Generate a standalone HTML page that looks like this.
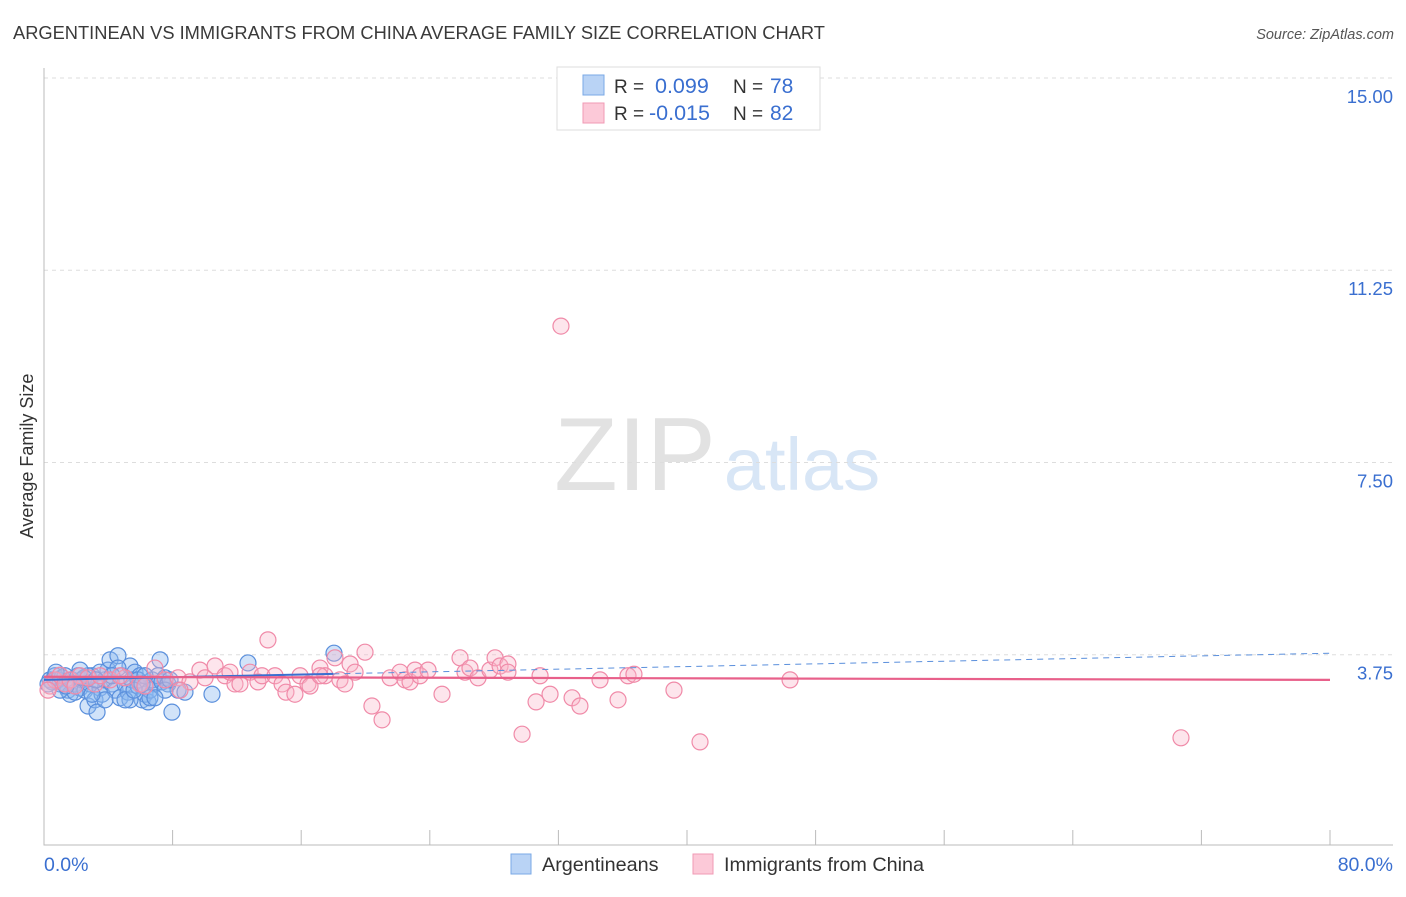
<!DOCTYPE html>
<html><head><meta charset="utf-8"><style>
body{margin:0;background:#fff;font-family:"Liberation Sans",sans-serif}
svg text{font-family:"Liberation Sans",sans-serif}
</style></head><body>
<svg id="chart" width="1406" height="892" xmlns="http://www.w3.org/2000/svg">
<text x="13" y="39" font-size="18.3" fill="#3a3a3a">ARGENTINEAN VS IMMIGRANTS FROM CHINA AVERAGE FAMILY SIZE CORRELATION CHART</text>
<text x="1394" y="39" font-size="14.5" fill="#555" text-anchor="end" font-style="italic">Source: ZipAtlas.com</text>
<text transform="translate(33,456) rotate(-90)" font-size="18" fill="#333" text-anchor="middle">Average Family Size</text>
<g>
<text x="635" y="490" font-size="104" fill="#e2e2e2" text-anchor="middle" font-family="Liberation Serif,serif">ZIP</text>
<text x="802" y="490" font-size="74" fill="#d8e6f6" text-anchor="middle">atlas</text>
</g>
<g id="grid"></g>
<g id="axes"></g>
<g id="pts"></g>
<g id="trends"></g>
<g>
<rect x="557" y="67" width="263" height="63" fill="#fff" stroke="#ddd"/>
<rect x="583" y="75" width="21" height="20" fill="#b9d3f5" stroke="#7aa8e6"/>
<rect x="583" y="103" width="21" height="20" fill="#fcc9d8" stroke="#f09ab4"/>
<text x="614" y="93" font-size="19" fill="#333">R =</text>
<text x="655" y="93" font-size="21.5" fill="#3a6fd0">0.099</text>
<text x="733" y="93" font-size="19" fill="#333">N =</text>
<text x="770" y="93" font-size="21" fill="#3a6fd0">78</text>
<text x="614" y="120" font-size="19" fill="#333">R =</text>
<text x="649" y="120" font-size="21.5" fill="#3a6fd0">-0.015</text>
<text x="733" y="120" font-size="19" fill="#333">N =</text>
<text x="770" y="120" font-size="21" fill="#3a6fd0">82</text>
</g>
<g>
<rect x="511" y="854" width="20" height="20" fill="#b9d3f5" stroke="#7aa8e6"/>
<text x="542" y="871" font-size="19.8" fill="#333">Argentineans</text>
<rect x="693" y="854" width="20" height="20" fill="#fcc9d8" stroke="#f09ab4"/>
<text x="724" y="871" font-size="19.8" fill="#333">Immigrants from China</text>
</g>
</svg>
<script>
const yTicks=[3.75,7.5,11.25,15];
const yTickLabels=["3.75","7.50","11.25","15.00"];
const xTickCount=11;
const xLabels=["0.0%","80.0%"];
const blueX=[0.37,0.5,0.68,0.87,1.0,1.12,1.31,1.49,1.62,1.74,1.93,2.12,2.24,2.36,2.55,2.74,2.86,2.99,3.17,3.3,3.48,3.61,3.79,3.98,4.11,4.23,4.42,4.6,4.73,4.85,5.04,5.23,5.35,5.47,5.66,5.85,5.97,6.1,6.28,6.47,6.59,6.72,6.9,7.09,7.22,7.34,7.53,7.71,7.96,8.34,8.77,10.45,12.69,18.04,3.48,4.6,5.35,2.74,1.0,1.93,3.79,5.85,6.59,7.53,2.99,5.04,0.25,0.75,1.37,2.49,4.23,6.28,6.9,7.84,2.24,3.23,5.6,6.1];
const blueY=[3.26,3.22,3.34,3.26,3.18,3.3,3.34,3.06,2.98,3.26,3.18,3.34,3.1,3.26,3.06,2.75,3.18,3.34,2.87,2.63,3.1,2.98,3.26,3.45,3.65,3.18,3.06,3.73,2.91,3.34,3.18,3.02,3.53,3.26,3.41,3.14,3.34,2.87,2.98,2.83,3.06,3.26,3.18,3.34,3.65,3.22,3.3,3.18,2.63,3.06,3.02,2.98,3.59,3.78,3.41,3.49,2.87,3.34,3.06,3.02,2.87,3.26,2.91,3.06,2.98,2.87,3.18,3.41,3.14,3.3,3.34,3.34,2.91,3.26,3.45,3.26,3.06,3.18];
const pinkX=[0.37,0.68,1.0,1.31,1.62,2.24,3.17,4.11,5.04,5.97,6.9,7.53,8.34,9.08,9.7,10.02,10.64,11.26,11.88,12.19,12.82,13.31,13.56,13.93,14.37,14.81,15.05,15.61,15.93,16.42,17.17,17.48,18.1,18.41,18.72,19.04,19.35,19.97,20.4,21.03,21.53,22.15,22.46,22.77,23.08,23.39,23.89,24.76,25.88,26.19,26.5,27.0,27.74,28.06,28.37,28.86,28.86,29.74,30.61,30.86,31.48,32.16,32.85,33.34,34.59,35.71,36.33,36.7,39.19,40.81,46.41,70.73,2.74,4.73,6.28,8.46,11.57,16.55,17.17,0.25,1.93,3.48];
const pinkY=[3.14,3.26,3.35,3.18,3.26,3.34,3.18,3.26,3.3,3.18,3.49,3.26,3.3,3.22,3.45,3.3,3.53,3.34,3.18,3.18,3.41,3.22,3.34,4.04,3.34,3.18,3.02,2.98,3.34,3.18,3.49,3.34,3.69,3.26,3.18,3.57,3.41,3.8,2.75,2.48,3.3,3.41,3.26,3.22,3.45,3.34,3.45,2.98,3.69,3.41,3.49,3.3,3.45,3.69,3.53,3.57,3.41,2.2,2.83,3.34,2.98,10.16,2.91,2.75,3.26,2.87,3.34,3.37,3.06,2.05,3.26,2.13,3.3,3.34,3.14,3.06,3.41,3.14,3.34,3.06,3.14,3.34];
const blueTrend=[3.26,3.78];
const pinkTrend=[3.32,3.26];
const NS="http://www.w3.org/2000/svg";
const X=v=>44+v*16.075, Y=v=>847-v*51.27;
function mk(t,a,p){const e=document.createElementNS(NS,t);for(const k in a)e.setAttribute(k,a[k]);document.getElementById(p).appendChild(e);return e;}
yTicks.forEach((v,i)=>{
 const g=mk('line',{x1:44,x2:1393,y1:Y(v),y2:Y(v),stroke:'#ddd','stroke-dasharray':'4,4'},'grid');
 
 
 const t=mk('text',{x:1393,y:Y(v)+25,'font-size':18.5,fill:'#3a6fd0','text-anchor':'end'},'grid');
 t.textContent=yTickLabels[i];
 
 
});
const ax=mk('path',{d:'M44,68V845H1393',stroke:'#bbb',fill:'none'},'axes');


for(let i=0;i<xTickCount;i++){
 const tk=mk('line',{x1:X(i*8),x2:X(i*8),y1:830,y2:845,stroke:'#bbb'},'axes');
 
 
}
[[0,'start',44],[80,'end',1393]].forEach((d,i)=>{
 const t=mk('text',{x:d[2],y:871,'font-size':19.5,fill:'#3a6fd0','text-anchor':d[1]},'axes');
 t.textContent=xLabels[i];
 
 
});
blueX.forEach((x,i)=>{
 const c=mk('circle',{cx:X(x),cy:Y(blueY[i]),r:8,fill:'rgba(140,185,240,0.4)',stroke:'#5a8fdc','stroke-width':1.2},'pts');
 
 
});
pinkX.forEach((x,i)=>{
 const c=mk('circle',{cx:X(x),cy:Y(pinkY[i]),r:8,fill:'rgba(250,180,200,0.35)',stroke:'#f08aa8','stroke-width':1.2},'pts');
 
 
});
const bAt=x=>blueTrend[0]+(blueTrend[1]-blueTrend[0])*x/80;
const b1=mk('line',{x1:X(0),y1:Y(bAt(0)),x2:X(18),y2:Y(bAt(18)),stroke:'#3a6fd0','stroke-width':2},'trends');


const b2=mk('line',{x1:X(18),y1:Y(bAt(18)),x2:X(80),y2:Y(bAt(80)),stroke:'#5a8fdc','stroke-width':1,'stroke-dasharray':'6,5'},'trends');


const p1=mk('line',{x1:X(0),y1:Y(pinkTrend[0]),x2:X(80),y2:Y(pinkTrend[1]),stroke:'#e8608a','stroke-width':2.2},'trends');


</script>
</body></html>
